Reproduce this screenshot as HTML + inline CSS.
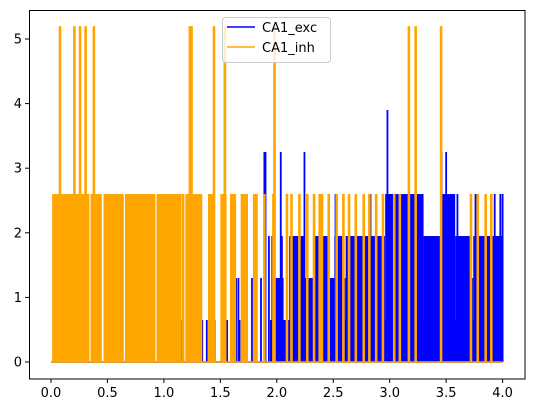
<!DOCTYPE html>
<html><head><meta charset="utf-8"><style>
body{margin:0;background:#fff}
svg{display:block;font-family:"DejaVu Sans","Liberation Sans",sans-serif}
</style></head><body>
<svg id="chart" width="534" height="413" viewBox="0 0 534 413" xmlns="http://www.w3.org/2000/svg">
<rect x="0" y="0" width="534" height="413" fill="#fff"/>
<g id="plot"></g>
<rect x="29.5" y="10.5" width="495.5" height="368.5" fill="none" stroke="#000" stroke-width="1"/>
<g id="ticks"></g>
<g>
<rect x="222.5" y="17.5" width="108" height="45" rx="3" fill="#fff" fill-opacity="0.8" stroke="#ccc"/>
<line x1="227" y1="27" x2="255" y2="27" stroke="#0000ff" stroke-width="1.6"/>
<text x="262" y="32" font-size="13">CA1_exc</text>
<line x1="227" y1="47" x2="255" y2="47" stroke="#ffa500" stroke-width="1.6"/>
<text x="262" y="52" font-size="13">CA1_inh</text>
</g>
</svg>
<script>
const xTicks=[0,0.5,1,1.5,2,2.5,3,3.5,4];
const xTickLabels=["0.0","0.5","1.0","1.5","2.0","2.5","3.0","3.5","4.0"];
const yTicks=[0,1,2,3,4,5];
const yTickLabels=["0","1","2","3","4","5"];
// blue (exc) dense blocks: [start, end, level]
const excBlockStart=[1.94,1.97,2.11,2.25,2.32,2.45,2.51,2.58,2.61,2.96,3.30,3.45,3.58,3.71,3.74];
const excBlockEnd=[4.0,2.06,2.25,2.32,2.45,2.51,2.58,2.61,2.96,3.30,3.45,3.58,3.71,3.74,4.0];
const excBlockLevel=[0.65,1.3,1.95,1.3,1.95,1.3,1.95,1.3,1.95,2.6,1.95,2.6,1.95,1.3,1.95];
const excSpikeT=[1.15,1.34,1.38,1.45,1.56,1.64,1.66,1.67,1.73,1.78,1.80,1.81,1.86,1.89,1.90,1.93,1.96,2.035,2.045,2.245,2.52,2.83,2.98,3.46,3.50,3.56,3.60,3.76,3.93,3.98,4.0];
const excSpikeV=[0.65,0.65,0.65,0.65,0.65,1.3,1.3,0.65,0.65,1.3,1.95,0.65,1.3,3.25,3.25,1.95,1.95,3.25,1.95,3.25,2.6,2.6,3.9,3.25,3.25,2.6,2.6,2.6,2.6,2.6,2.6];
// orange (inh) dense blocks
const inhBlockStart=[0.01,0.35,0.465,0.655,0.935,1.19,1.39,1.50,1.585,1.68];
const inhBlockEnd=[0.34,0.45,0.645,0.925,1.155,1.34,1.445,1.555,1.64,1.745];
const inhBlockLevel=[2.6,2.6,2.6,2.6,2.6,2.6,2.6,2.6,2.6,2.6];
const inhSpikeT=[0.08,0.207,0.257,0.307,0.38,1.17,1.23,1.245,1.444,1.54,1.80,1.82,1.89,1.98,1.97,2.09,2.13,2.20,2.27,2.33,2.38,2.40,2.46,2.53,2.59,2.64,2.70,2.77,2.82,2.88,2.94,3.04,3.09,3.17,3.23,3.455,3.72,3.78,3.85,3.90];
const inhSpikeV=[5.2,5.2,5.2,5.2,5.2,2.6,5.2,5.2,5.2,5.2,2.6,2.6,2.6,5.2,2.6,2.6,2.6,2.6,2.6,2.6,2.6,2.6,2.6,2.6,2.6,2.6,2.6,2.6,2.6,2.6,2.6,2.6,2.6,5.2,5.2,5.2,2.6,2.6,2.6,2.6];

const X=t=>51+t*112.9;
const Y=v=>362-v*64.6;
const NS="http://www.w3.org/2000/svg";
const plot=document.getElementById('plot');
const ticks=document.getElementById('ticks');
function mk(tag,attrs,parent){const e=document.createElementNS(NS,tag);for(const k in attrs)e.setAttribute(k,attrs[k]);parent.appendChild(e);return e;}

// baselines
let b=mk('line',{x1:X(0),x2:X(4),y1:Y(0),y2:Y(0),stroke:'#0000ff','stroke-width':1.5},plot);


for(let i=0;i<excBlockStart.length;i++){
  const r=mk('rect',{x:X(excBlockStart[i]),width:X(excBlockEnd[i])-X(excBlockStart[i]),y:Y(excBlockLevel[i]),height:Y(0)-Y(excBlockLevel[i]),fill:'#0000ff'},plot);
  
  
}
for(let i=0;i<excSpikeT.length;i++){
  const l=mk('line',{x1:X(excSpikeT[i]),x2:X(excSpikeT[i]),y1:Y(0),y2:Y(excSpikeV[i]),stroke:'#0000ff','stroke-width':1.8},plot);
  
  
}
let b2=mk('line',{x1:X(0),x2:X(4),y1:Y(0),y2:Y(0),stroke:'#ffa500','stroke-width':1.5},plot);


for(let i=0;i<inhBlockStart.length;i++){
  const r=mk('rect',{x:X(inhBlockStart[i]),width:X(inhBlockEnd[i])-X(inhBlockStart[i]),y:Y(inhBlockLevel[i]),height:Y(0)-Y(inhBlockLevel[i]),fill:'#ffa500'},plot);
  
  
}
for(let i=0;i<inhSpikeT.length;i++){
  const l=mk('line',{x1:X(inhSpikeT[i]),x2:X(inhSpikeT[i]),y1:Y(0),y2:Y(inhSpikeV[i]),stroke:'#ffa500','stroke-width':2.6},plot);
  
  
}
for(let i=0;i<xTicks.length;i++){
  const x=X(xTicks[i]);
  const l=mk('line',{x1:x,x2:x,y1:379,y2:383,stroke:'#000'},ticks);
  
  
  const t=mk('text',{x:x,y:397,'font-size':13,'text-anchor':'middle'},ticks);
  t.textContent=xTickLabels[i];
  
  
}
for(let i=0;i<yTicks.length;i++){
  const y=Y(yTicks[i]);
  const l=mk('line',{x1:25,x2:29,y1:y,y2:y,stroke:'#000'},ticks);
  
  
  const t=mk('text',{x:22,y:y+4.5,'font-size':13,'text-anchor':'end'},ticks);
  t.textContent=yTickLabels[i];
  
  
}
</script>
</body></html>
